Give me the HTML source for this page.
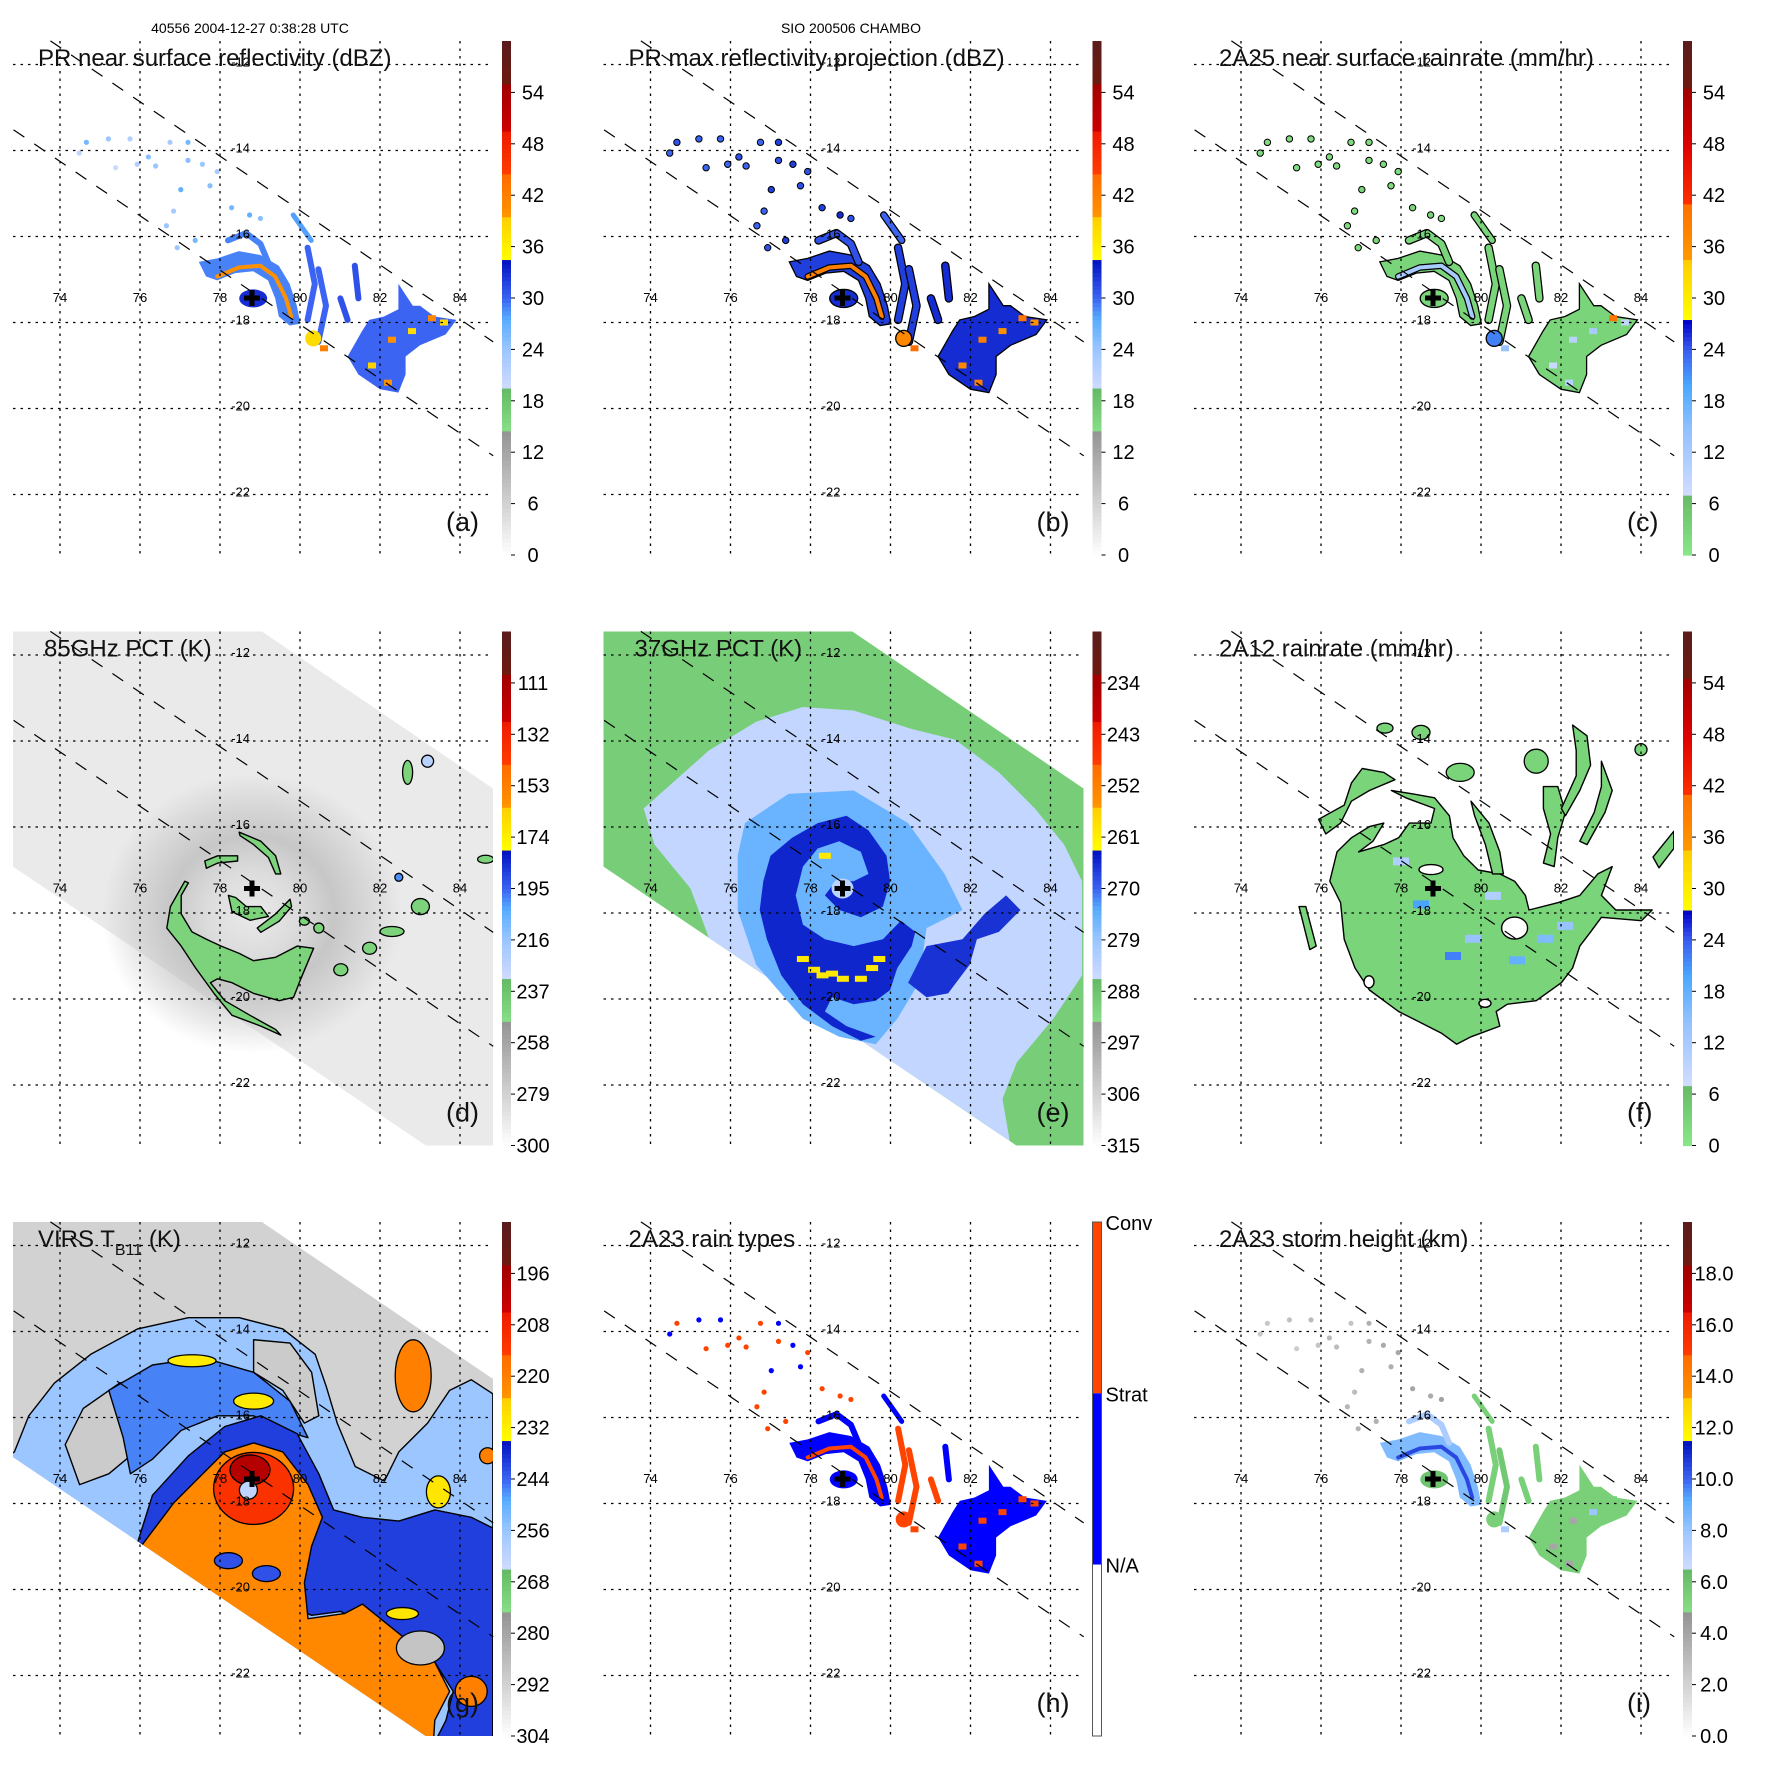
<!DOCTYPE html>
<html><head><meta charset="utf-8"><title>CHAMBO TRMM panels</title>
<style>
html,body{margin:0;padding:0;background:#fff;}
svg{display:block;font-family:"Liberation Sans",sans-serif;}
</style></head>
<body>
<svg id="fig" xmlns="http://www.w3.org/2000/svg" width="1771" height="1771" viewBox="0 0 1771 1771">
<rect x="0" y="0" width="1771" height="1771" fill="#fff"/>
<text x="250" y="33" font-size="14" text-anchor="middle" fill="#000">40556 2004-12-27 0:38:28 UTC</text>
<text x="851" y="33" font-size="14" text-anchor="middle" fill="#000">SIO 200506 CHAMBO</text>
</svg>
<script>
// ---------- data ----------
const lonTicks=[74,76,78,80,82,84];
const latTicks=[-12,-14,-16,-18,-20,-22];
const swathLines=[[[73.76,-11.45],[84.83,-18.45]],[[72.84,-13.52],[84.83,-21.1]]];
const stormCenter=[78.8,-17.43];
const swathPoly=[[72.825,-11.44],[79.025,-11.44],[84.825,-15.105],[84.825,-23.41],[83.15,-23.41],[72.825,-16.92]];
const panelIds=['a','b','c','d','e','f','g','h','i'];
const panelTitles=['PR near surface reflectivity (dBZ)','PR max reflectivity projection (dBZ)','2A25 near surface rainrate (mm/hr)','85GHz PCT (K)','37GHz PCT (K)','2A12 rainrate (mm/hr)','VIRS T','2A23 rain types','2A23 storm height (km)'];
const panelLetters=['(a)','(b)','(c)','(d)','(e)','(f)','(g)','(h)','(i)'];
const cbLabelsDbz=['0','6','12','18','24','30','36','42','48','54'];
const cbLabelsRain=['0','6','12','18','24','30','36','42','48','54'];
const cbLabels85=['300','279','258','237','216','195','174','153','132','111'];
const cbLabels37=['315','306','297','288','279','270','261','252','243','234'];
const cbLabelsVirs=['304','292','280','268','256','244','232','220','208','196'];
const cbLabelsHt=['0.0','2.0','4.0','6.0','8.0','10.0','12.0','14.0','16.0','18.0'];
const rainTypeLabels=['Conv','Strat','N/A'];

// PR echo geometry (lon,lat)
const prMainArc=[[77.47,-16.59],[77.93,-16.51],[78.47,-16.34],[79.01,-16.43],[79.47,-16.68],[79.74,-17.10],[79.92,-17.61],[80.01,-18.03],[79.74,-18.07],[79.47,-17.86],[79.38,-17.44],[79.20,-17.02],[78.83,-16.81],[78.38,-16.85],[77.93,-17.02],[77.65,-16.93]];
const prEastCluster=[[81.19,-18.79],[81.55,-18.20],[81.73,-17.94],[82.10,-17.86],[82.46,-17.69],[82.46,-17.10],[82.82,-17.61],[83.0,-17.61],[83.36,-17.86],[83.91,-17.94],[83.64,-18.28],[83.0,-18.53],[82.64,-18.79],[82.64,-19.21],[82.46,-19.63],[82.0,-19.55],[81.46,-19.21]];
const prPolys=[prMainArc,prEastCluster];
const prLines=[
 [[77.93,-16.93],[78.47,-16.72],[79.01,-16.68],[79.38,-16.93],[79.65,-17.44],[79.78,-17.86]],
 [[78.2,-16.09],[78.65,-15.92],[79.01,-16.17],[79.2,-16.59]],
 [[79.83,-15.5],[80.28,-16.09]],
 [[80.19,-16.26],[80.37,-17.1],[80.19,-17.94]],
 [[80.46,-16.76],[80.65,-17.61],[80.46,-18.45]],
 [[81.01,-17.44],[81.19,-17.94]],
 [[81.37,-16.68],[81.46,-17.44]]];
const prBlobs=[[78.83,-17.44],[80.33,-18.37]];
const prSpots=[[82.3,-18.4],[82.8,-18.2],[83.3,-17.9],[81.8,-19.0],[82.2,-19.4],[80.6,-18.6],[83.6,-18.0]];
const prDots=[[74.66,-13.81],[75.21,-13.73],[75.75,-13.73],[76.21,-14.15],[76.75,-13.81],[77.20,-13.81],[76.39,-14.36],[77.20,-14.23],[77.56,-14.32],[77.93,-14.49],[77.02,-14.91],[77.75,-14.82],[78.29,-15.33],[78.74,-15.50],[79.01,-15.58],[76.84,-15.41],[76.66,-15.75],[77.38,-16.09],[76.93,-16.26],[75.39,-14.40],[75.93,-14.32],[74.48,-14.06]];

// per-panel PR values
const aPolyVals=[29,30], aLineVals=[40,29,28,30,30,31,31], aBlobVals=[33,38], aSpotVals=[40,38,41,39,40,42,38];
const aDotVals=[26,24,22,25,23,26,24,25,24,23,27,25,26,27,25,23,24,26,24,20,22,21];
const bPolyVals=[32,33], bLineVals=[42,31,30,32,32,33,33], bBlobVals=[33,41], bSpotVals=[42,40,43,41,42,44,40];
const bDotVals=[31,30,30,31,30,32,30,31,32,31,32,31,32,33,31,30,30,32,31,30,30,30];
const cPolyVals=[3,3], cLineVals=[12,3,3,3,3,3,3], cBlobVals=[3,22], cSpotVals=[10,12,40,8,10,14,9];
const cDotVals=[2,2,2,2,2,2,2,2,2,2,3,2,3,3,2,2,2,3,2,2,2,2];
const hPolyVals=[1,1], hLineVals=[2,1,1,2,2,2,1], hBlobVals=[1,2], hSpotVals=[2,2,2,2,2,2,2];
const hDotVals=[2,1,1,2,2,1,2,2,1,2,1,1,2,2,2,2,2,2,2,2,2,1];
const iPolyVals=[8.5,5.5], iLineVals=[10.5,7.5,5.5,5.5,5.8,5.5,5.5], iBlobVals=[6,5.5], iSpotVals=[4,8,5.5,4,4,7.5,5.5];
const iDotVals=[2.5,2.8,3,3.2,2.6,3.5,3,3.4,3.8,4,3.5,3.6,4,3.8,4.2,3,3.2,3.5,3.4,2.2,2.6,2.4];

// 85 GHz (d)
const dPolys=[
 [[77.12,-17.26],[76.76,-17.85],[76.67,-18.35],[77.03,-18.77],[77.39,-19.28],[77.85,-19.87],[78.30,-20.38],[79.02,-20.63],[79.52,-20.84],[79.39,-20.71],[78.75,-20.38],[78.12,-20.04],[77.76,-19.62],[77.94,-19.53],[78.30,-19.62],[78.84,-19.87],[79.48,-20.04],[79.84,-19.96],[80.02,-19.53],[80.34,-18.82],[79.93,-18.77],[79.39,-19.03],[78.84,-19.11],[78.48,-18.94],[78.03,-18.77],[77.66,-18.61],[77.30,-18.44],[77.03,-18.02],[77.03,-17.59],[77.21,-17.30]],
 [[78.21,-17.59],[78.30,-17.97],[78.75,-18.17],[79.21,-18.08],[79.02,-17.85],[78.66,-17.85],[78.39,-17.64]],
 [[78.48,-16.12],[79.02,-16.33],[79.39,-16.67],[79.52,-17.09],[79.39,-17.09],[79.21,-16.71],[78.84,-16.41],[78.5,-16.2]],
 [[77.62,-16.79],[77.94,-16.67],[78.44,-16.67],[78.44,-16.79],[77.94,-16.84],[77.66,-16.96]],
 [[78.93,-18.35],[79.39,-18.02],[79.75,-17.68],[79.79,-17.85],[79.48,-18.19],[79.02,-18.45]]];
const dPolyVals=[244,244,244,244,244];
const dBlobs=[[83.01,-17.85],[82.3,-18.43],[81.74,-18.82],[81.02,-19.32],[82.69,-14.73],[83.19,-14.47],[84.64,-16.75],[80.47,-18.35],[80.11,-18.19],[82.47,-17.17]];
const dBlobVals=[244,244,244,244,244,225,244,244,244,200];
const dBgVal=290, dRingVal=268;

// 37 GHz (e)
const eLight=[[73.83,-15.57],[75.46,-14.22],[76.64,-13.55],[77.81,-13.21],[79.08,-13.29],[80.53,-13.72],[81.62,-13.97],[82.71,-14.73],[83.61,-15.57],[84.34,-16.41],[84.79,-17.26],[84.79,-19.45],[84.07,-20.46],[83.16,-21.47],[82.80,-22.32],[82.98,-23.30],[75.46,-18.58],[75.0,-17.43],[74.1,-16.41]];
const eMed=[[76.36,-15.91],[77.45,-15.23],[79.08,-15.15],[80.44,-15.91],[81.35,-17.09],[81.80,-17.93],[80.90,-18.35],[80.71,-19.62],[80.17,-20.46],[79.63,-21.05],[78.72,-20.88],[77.81,-20.46],[76.64,-19.20],[76.18,-17.93],[76.18,-16.67]];
const eDark=[[76.82,-17.26],[77.0,-16.67],[77.54,-16.25],[78.18,-15.91],[78.90,-15.74],[79.45,-16.08],[79.90,-16.67],[79.99,-17.26],[79.81,-17.85],[79.26,-18.10],[78.72,-17.93],[78.36,-17.59],[78.63,-17.26],[79.08,-17.26],[79.45,-17.09],[79.26,-16.58],[78.72,-16.33],[78.18,-16.50],[77.81,-16.92],[77.63,-17.59],[77.81,-18.27],[78.36,-18.61],[79.08,-18.77],[79.81,-18.61],[80.26,-18.18],[80.62,-18.44],[80.53,-18.77],[80.17,-19.28],[79.99,-19.79],[79.63,-20.04],[79.08,-20.12],[78.54,-19.96],[78.36,-20.29],[78.90,-20.63],[79.63,-20.88],[79.26,-20.97],[78.54,-20.63],[77.81,-20.12],[77.27,-19.45],[76.91,-18.61],[76.73,-17.93]];
const eDarkEast=[[80.44,-19.62],[80.90,-18.77],[81.80,-18.61],[82.35,-18.02],[82.89,-17.59],[83.25,-17.93],[82.71,-18.44],[82.16,-18.61],[81.98,-19.20],[81.44,-19.87],[80.90,-19.96]];
const ePolys=[eLight,eMed,eDark,eDarkEast];
const ePolyVals=[284,275,265,266];
const eBgVal=290, eEyeVal=283;
const eSpecks=[[77.81,-19.07],[78.09,-19.32],[78.54,-19.41],[78.81,-19.53],[79.26,-19.53],[79.54,-19.28],[78.36,-16.67],[79.72,-19.07],[78.3,-19.45]];
const eSpeckVals=[260,260,260,260,260,260,260,260,260];

// 2A12 (f)
const fPolys=[
 [[76.22,-17.26],[76.40,-16.58],[76.76,-16.25],[77.21,-15.99],[77.57,-15.91],[77.30,-16.33],[76.94,-16.58],[77.57,-16.41],[77.94,-16.25],[78.21,-15.91],[78.75,-15.91],[78.84,-15.57],[78.12,-15.32],[77.76,-15.15],[78.30,-15.23],[78.84,-15.32],[79.21,-15.74],[79.30,-16.25],[79.57,-16.67],[79.93,-17.00],[80.47,-17.09],[80.84,-17.26],[81.11,-17.59],[81.20,-17.93],[81.92,-17.76],[82.47,-17.59],[82.92,-17.09],[83.28,-16.92],[83.01,-17.59],[83.37,-17.93],[84.28,-17.93],[84.01,-18.18],[83.01,-18.10],[82.74,-18.44],[82.47,-18.77],[82.29,-19.28],[82.01,-19.62],[81.38,-20.04],[80.66,-20.12],[80.38,-20.29],[80.47,-20.63],[79.75,-20.88],[79.39,-21.05],[79.02,-20.80],[78.30,-20.46],[77.94,-20.29],[77.21,-19.79],[76.85,-19.28],[76.58,-18.61],[76.49,-17.76]],
 [[75.94,-15.82],[76.12,-16.16],[76.49,-15.91],[76.76,-15.40],[77.21,-15.15],[77.85,-14.90],[77.57,-14.73],[77.03,-14.64],[76.76,-14.98],[76.58,-15.49]],
 [[79.75,-15.40],[80.20,-15.91],[80.47,-16.58],[80.56,-17.09],[80.29,-17.09],[80.11,-16.41],[79.84,-15.74]],
 [[81.56,-15.06],[81.92,-15.06],[82.11,-15.66],[81.92,-16.25],[81.83,-16.92],[81.56,-16.84],[81.74,-16.16],[81.56,-15.57]],
 [[82.29,-13.63],[82.65,-13.88],[82.74,-14.56],[82.47,-15.15],[82.11,-15.74],[82.01,-15.57],[82.38,-14.81],[82.38,-14.22]],
 [[83.01,-14.47],[83.28,-15.15],[83.10,-15.66],[82.65,-16.41],[82.47,-16.33],[82.83,-15.66],[83.01,-15.06]],
 [[75.45,-17.85],[75.62,-17.85],[75.88,-18.77],[75.72,-18.85]],
 [[84.3,-16.7],[84.82,-16.1],[84.82,-16.5],[84.45,-16.95]]];
const fPolyVals=[3,3,3,3,3,3,3,3];
const fBlobs=[[81.38,-14.47],[79.48,-14.73],[78.5,-13.8],[77.6,-13.7],[84.0,-14.2]];
const fBlobVals=[3,3,3,3,3];
const fHoles=[[78.75,-16.99],[80.84,-18.35],[80.1,-20.1],[77.2,-19.6]];
const fRain=[[78.5,-17.8],[79.3,-19.0],[79.8,-18.6],[80.9,-19.1],[81.6,-18.6],[82.1,-18.3],[78.0,-16.8],[80.3,-17.6]];
const fRainVals=[20,22,14,18,16,14,11,11];

// VIRS (g)
const gOuter=[[72.86,-16.80],[73.22,-15.96],[73.86,-15.20],[74.77,-14.53],[75.94,-13.94],[77.21,-13.68],[78.48,-13.68],[79.57,-13.94],[80.38,-14.53],[80.66,-15.29],[80.93,-16.13],[81.38,-17.14],[82.11,-17.48],[82.47,-16.80],[83.19,-16.13],[83.74,-15.37],[84.28,-15.12],[84.82,-15.45],[84.82,-23.55],[83.37,-23.55],[72.5,-17.0]];
const gHoleW=[[74.13,-16.63],[74.58,-15.79],[75.49,-15.20],[76.58,-14.95],[76.85,-15.62],[76.40,-16.30],[75.76,-16.89],[75.22,-17.31],[74.49,-17.56]];
const gHoleN=[[78.84,-14.19],[79.75,-14.27],[80.29,-14.95],[80.47,-15.96],[80.11,-16.13],[79.57,-15.37],[78.84,-14.95]];
const gDarkNW=[[75.22,-15.37],[76.31,-14.78],[77.57,-14.61],[78.84,-14.95],[79.75,-15.62],[80.20,-16.47],[79.57,-16.30],[78.84,-15.96],[77.94,-15.96],[77.03,-16.30],[76.31,-16.97],[75.76,-17.31],[75.58,-16.47]];
const gDark=[[75.94,-18.91],[76.31,-17.81],[77.21,-16.89],[78.12,-16.21],[79.02,-15.96],[79.93,-16.38],[80.47,-17.31],[80.84,-18.15],[81.56,-18.32],[82.47,-18.41],[83.37,-18.15],[84.28,-18.32],[84.82,-18.57],[84.82,-23.55],[83.37,-23.55],[83.65,-23.04],[83.83,-22.37],[83.37,-21.69],[82.65,-21.19],[81.74,-20.93],[81.02,-20.51],[80.29,-20.60]];
const gOrange=[[76.03,-18.99],[76.85,-17.98],[77.57,-17.31],[78.12,-16.80],[78.84,-16.59],[79.57,-16.80],[80.20,-17.56],[80.56,-18.32],[80.29,-18.99],[80.11,-19.84],[80.20,-20.68],[81.11,-20.56],[81.56,-20.34],[82.47,-21.02],[83.37,-21.69],[83.74,-22.37],[83.37,-23.04],[83.33,-23.63],[75.22,-23.63],[72.5,-18.99]];
const gPolys=[gOuter,gHoleW,gHoleN,gDarkNW,gDark,gOrange];
const gPolyVals=[256,290,290,246,240,222];
const gBlobs=[[78.84,-17.65],[78.75,-17.22],[78.71,-17.69],[78.21,-19.33],[79.16,-19.63],[82.83,-15.03],[83.46,-17.73],[84.69,-16.89],[82.56,-20.56],[84.28,-22.37],[83.01,-21.36],[77.3,-14.68],[78.84,-15.62]];
const gBlobVals=[212,199,262,242,242,220,230,220,230,220,288,231,231];
const gBgVal=292;

// ---------- helpers ----------
const NS='http://www.w3.org/2000/svg';
const svg=document.getElementById('fig');
function el(tag,attrs,parent){const e=document.createElementNS(NS,tag);for(const k in attrs)e.setAttribute(k,attrs[k]);(parent||svg).appendChild(e);return e;}
function hex(c){return [parseInt(c.substr(1,2),16),parseInt(c.substr(3,2),16),parseInt(c.substr(5,2),16)];}
function interp(stops,f){f=Math.max(0,Math.min(1,f));
 for(let i=0;i<stops.length-1;i++){const a=stops[i],b=stops[i+1];if(b[0]<=a[0])continue;
  if(f>=a[0]&&f<=b[0]){const t=(f-a[0])/(b[0]-a[0]);const A=hex(a[1]),B=hex(b[1]);
   return 'rgb('+A.map((v,j)=>Math.round(v+(B[j]-v)*t)).join(',')+')';}}
 return stops[stops.length-1][1];}
const cmapA=[[0,'#ffffff'],[0.238,'#959595'],[0.238,'#88e088'],[0.322,'#66bb66'],[0.322,'#d2dcff'],[0.40,'#9cc6ff'],[0.46,'#58acff'],[0.50,'#3c64f2'],[0.575,'#0010c0'],[0.575,'#ffff00'],[0.66,'#ffcc00'],[0.66,'#ff9400'],[0.743,'#ff6a00'],[0.743,'#ff3c00'],[0.828,'#ee1800'],[0.828,'#cc0000'],[0.916,'#a00000'],[0.916,'#6e1a10'],[1,'#5a1c1c']];
const cmapC=[[0,'#88e888'],[0.118,'#66bb66'],[0.118,'#d2dcff'],[0.25,'#8ec0ff'],[0.33,'#4aa8ff'],[0.40,'#3a5cf0'],[0.457,'#0000c8'],[0.457,'#ffff00'],[0.575,'#ffcc00'],[0.575,'#ff9800'],[0.68,'#ff7000'],[0.68,'#ff3000'],[0.8,'#dd0000'],[0.91,'#a00000'],[0.91,'#6e1a10'],[1,'#5a1c1c']];
const colFns={
 a:v=>interp(cmapA,v/60), b:v=>interp(cmapA,v/60), c:v=>interp(cmapC,v/60),
 d:v=>interp(cmapA,(300-v)/210), e:v=>interp(cmapA,(315-v)/90), f:v=>interp(cmapC,v/60),
 g:v=>interp(cmapA,(304-v)/120), h:v=>(v>=2?'#ff4400':(v>=1?'#0000ff':'#ffffff')), i:v=>interp(cmapA,v/20)};

function makeAxes(idx){
 const col=idx%3,row=Math.floor(idx/3),ox=col*590.5,oy=row*590.5;
 return {ox,oy,X:lon=>ox+60+(lon-74)*40,Y:lat=>oy+64.5+(-12-lat)*43};
}
function ptsStr(ax,pts){return pts.map(p=>ax.X(p[0]).toFixed(1)+','+ax.Y(p[1]).toFixed(1)).join(' ');}

function drawPR(g,ax,col,polyV,lineV,blobV,spotV,dotV,outline){
 const lineW=[4,6,5,6,6,6,6];
 const blobR=[[14,9],[8,8]];
 prPolys.forEach((p,i)=>{const e=el('polygon',{points:ptsStr(ax,p),fill:col(polyV[i]),stroke:outline?'#000':'none','stroke-width':1.3},g);
  
  });
 prLines.forEach((p,i)=>{if(outline){const o=el('polyline',{points:ptsStr(ax,p),fill:'none',stroke:'#000','stroke-width':lineW[i]+2.5,'stroke-linecap':'round','stroke-linejoin':'round'},g);
   
   }
  const e=el('polyline',{points:ptsStr(ax,p),fill:'none',stroke:col(lineV[i]),'stroke-width':lineW[i],'stroke-linecap':'round','stroke-linejoin':'round'},g);
  
  });
 prBlobs.forEach((p,i)=>{const e=el('ellipse',{cx:ax.X(p[0]),cy:ax.Y(p[1]),rx:blobR[i][0],ry:blobR[i][1],fill:col(blobV[i]),stroke:outline?'#000':'none','stroke-width':1.3},g);
  
  });
 prSpots.forEach((p,i)=>{const e=el('rect',{x:ax.X(p[0])-4,y:ax.Y(p[1])-3,width:8,height:6,fill:col(spotV[i])},g);
  
  });
 prDots.forEach((p,i)=>{const e=el('circle',{cx:ax.X(p[0]),cy:ax.Y(p[1]),r:outline?3.2:2.6,fill:col(dotV[i]),stroke:outline?'#000':'none','stroke-width':1},g);
  
  });
}
function polys(g,ax,col,list,vals,stroke,name){
 list.forEach((p,i)=>{const e=el('polygon',{points:ptsStr(ax,p),fill:col(vals[i]),stroke:stroke||'none','stroke-width':1.4,'stroke-linejoin':'round'},g);
  
  });
}
function blobs(g,ax,col,list,vals,rx,ry,stroke,name){
 list.forEach((p,i)=>{const e=el('ellipse',{cx:ax.X(p[0]),cy:ax.Y(p[1]),rx:rx[i%rx.length],ry:ry[i%ry.length],fill:col(vals[i]),stroke:stroke||'none','stroke-width':1.3},g);
  
  });
}

const defs=el('defs',{});
const cbLabelSets={a:cbLabelsDbz,b:cbLabelsDbz,c:cbLabelsRain,d:cbLabels85,e:cbLabels37,f:cbLabelsRain,g:cbLabelsVirs,i:cbLabelsHt};

panelIds.forEach((id,idx)=>{
 const ax=makeAxes(idx),ox=ax.ox,oy=ax.oy,col=colFns[id];
 const pg=el('g',{});
 
 
 const cp=el('clipPath',{id:'clip-'+id},defs);
 el('rect',{x:ox+13,y:oy+41,width:480,height:514},cp);
 const map=el('g',{'clip-path':'url(#clip-'+id+')'},pg);
 
 

 if(id==='a')drawPR(map,ax,col,aPolyVals,aLineVals,aBlobVals,aSpotVals,aDotVals,false);
 if(id==='b')drawPR(map,ax,col,bPolyVals,bLineVals,bBlobVals,bSpotVals,bDotVals,true);
 if(id==='c')drawPR(map,ax,col,cPolyVals,cLineVals,cBlobVals,cSpotVals,cDotVals,true);
 if(id==='h')drawPR(map,ax,col,hPolyVals,hLineVals,hBlobVals,hSpotVals,hDotVals,false);
 if(id==='i')drawPR(map,ax,col,iPolyVals,iLineVals,iBlobVals,iSpotVals,iDotVals,false);
 if(id==='d'){
  const sw=el('polygon',{points:ptsStr(ax,swathPoly),fill:col(dBgVal)},map);
  
  
  const rg=el('radialGradient',{id:'ring-d'},defs);
  [[0,0.0],[0.3,0.3],[0.55,0.75],[0.8,0.35],[1,0]].forEach(s=>el('stop',{offset:s[0],'stop-color':col(dRingVal),'stop-opacity':s[1]},rg));
  const ring=el('ellipse',{cx:ax.X(stormCenter[0]),cy:ax.Y(stormCenter[1])+25,rx:150,ry:140,fill:'url(#ring-d)'},map);
  
  
  polys(map,ax,col,dPolys,dPolyVals,'#000','ice-scattering-region');
  blobs(map,ax,col,dBlobs,dBlobVals,[9,12,7,7,5,6,8,5,5,4],[8,5,6,6,12,6,4,5,4,4],'#000','ice-scattering-cell');
 }
 if(id==='e'){
  const sw=el('polygon',{points:ptsStr(ax,swathPoly),fill:col(eBgVal)},map);
  
  
  polys(map,ax,col,ePolys,ePolyVals,null,'pct-region');
  const eye=el('ellipse',{cx:ax.X(stormCenter[0]),cy:ax.Y(stormCenter[1]),rx:11,ry:10,fill:col(eEyeVal)},map);
  
  
  eSpecks.forEach((p,i)=>{const r=el('rect',{x:ax.X(p[0])-6,y:ax.Y(p[1])-3,width:12,height:6,fill:col(eSpeckVals[i])},map);
   
   });
 }
 if(id==='f'){
  polys(map,ax,col,fPolys,fPolyVals,'#000','rain-region');
  blobs(map,ax,col,fBlobs,fBlobVals,[12,14,9,8,6],[12,9,7,5,6],'#000','rain-cell');
  fRain.forEach((p,i)=>{const r=el('rect',{x:ax.X(p[0])-8,y:ax.Y(p[1])-4,width:16,height:8,fill:col(fRainVals[i])},map);
   
   });
  fHoles.forEach((p,i)=>{const r=el('ellipse',{cx:ax.X(p[0]),cy:ax.Y(p[1]),rx:[12,13,6,5][i],ry:[5,11,4,6][i],fill:'#fff',stroke:'#000','stroke-width':1.4},map);
   
   });
 }
 if(id==='g'){
  const sw=el('polygon',{points:ptsStr(ax,swathPoly),fill:col(gBgVal)},map);
  
  
  const gc=el('clipPath',{id:'swclip-g'},defs);
  el('polygon',{points:ptsStr(ax,swathPoly)},gc);
  const inner=el('g',{'clip-path':'url(#swclip-g)'},map);
  polys(inner,ax,col,gPolys,gPolyVals,'#000','cloud-top-region');
  blobs(inner,ax,col,gBlobs,gBlobVals,[40,20,9,14,14,18,12,8,16,16,24,24,20],[36,15,9,8,8,36,16,8,6,15,17,6,8],'#000','cloud-top-cell');
 }

 // grid
 lonTicks.forEach(lon=>{const l=el('line',{x1:ax.X(lon),x2:ax.X(lon),y1:oy+41,y2:oy+555,stroke:'#000','stroke-width':1.3,'stroke-dasharray':'2.5,5'},pg);
  
  
  const t=el('text',{x:ax.X(lon),y:oy+302,'font-size':13,'text-anchor':'middle',fill:'#000'},pg);t.textContent=String(lon);
  
  });
 latTicks.forEach(lat=>{const l=el('line',{x1:ox+13,x2:ox+493,y1:ax.Y(lat),y2:ax.Y(lat),stroke:'#000','stroke-width':1.3,'stroke-dasharray':'2.5,5'},pg);
  
  
  const t=el('text',{x:ax.X(78.28),y:ax.Y(lat)+2,'font-size':13,fill:'#000'},pg);t.textContent=String(lat);
  
  });
 // swath edges
 swathLines.forEach(s=>{const l=el('line',{x1:ax.X(s[0][0]),y1:ax.Y(s[0][1]),x2:ax.X(s[1][0]),y2:ax.Y(s[1][1]),stroke:'#000','stroke-width':1.2,'stroke-dasharray':'13,12'},pg);
  
  });
 // storm center
 const cx=ax.X(stormCenter[0]),cy=ax.Y(stormCenter[1]);
 const cr=el('path',{d:`M${cx-8},${cy}H${cx+8}M${cx},${cy-8}V${cy+8}`,stroke:'#000','stroke-width':5},pg);
 
 
 // title
 const tt=el('text',{x:ox+((id==='d'||id==='e')?44:38),y:oy+66,'font-size':24,fill:'#111'},pg);
 tt.textContent=panelTitles[idx];
 if(id==='g'){const s=el('tspan',{'font-size':16,dy:8},tt);s.textContent='B11';const s2=el('tspan',{dy:-8},tt);s2.textContent='  (K)';}
 
 
 const lt=el('text',{x:ox+446,y:oy+531,'font-size':27,fill:'#111'},pg);lt.textContent=panelLetters[idx];
 
 
 // colorbar
 const cb=el('g',{},pg);
 
 
 if(id==='h'){
  const cols=['#ff4400','#0000ff','#ffffff'];
  cols.forEach((c,k)=>{const r=el('rect',{x:ox+502,y:oy+41+k*171.3,width:9,height:171.3,fill:c},cb);
   
   
   const t=el('text',{x:ox+515,y:oy+41+k*171.3+8,'font-size':20,fill:'#000'},cb);t.textContent=rainTypeLabels[k];
   
   });
  el('rect',{x:ox+502,y:oy+41,width:9,height:514,fill:'none',stroke:'#555','stroke-width':1},cb);
 } else {
  const N=120,cm=(id==='c'||id==='f')?cmapC:cmapA;
  for(let k=0;k<N;k++){const f=(k+0.5)/N;
   const r=el('rect',{x:ox+502,y:oy+555-(k+1)*514/N,width:9,height:514/N+0.6,fill:interp(cm,f)},cb);
   
   }
  cbLabelSets[id].forEach((lab,k)=>{const y=oy+555-k*0.1*514;
   el('line',{x1:ox+511,x2:ox+515,y1:y,y2:y,stroke:'#000','stroke-width':1},cb);
   const t=el('text',{x:ox+533,y:y+7,'font-size':20,'text-anchor':'middle',fill:'#000'},cb);t.textContent=lab;
   
   });
 }
});
</script>
</body></html>
